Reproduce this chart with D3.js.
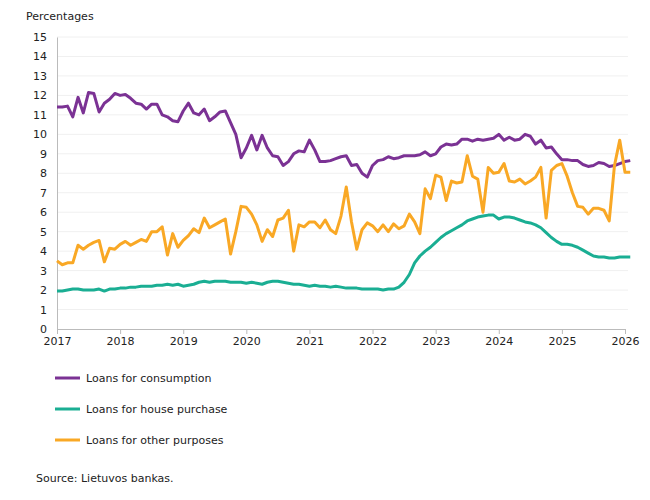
<!DOCTYPE html><html><head><meta charset="utf-8"><script src="https://cdn.jsdelivr.net/npm/d3@7"></script>
<style>body{margin:0;background:#fff}text{font-family:"DejaVu Sans",Verdana,sans-serif}</style></head><body><svg width="650" height="500"></svg>
<script>
const consumption=[11.4,11.4,11.45,10.9,11.9,11.1,12.15,12.1,11.15,11.6,11.8,12.1,
12.0,12.05,11.85,11.6,11.55,11.3,11.55,11.55,11.0,10.9,10.7,10.65,
11.2,11.6,11.1,11.0,11.3,10.7,10.9,11.15,11.2,10.6,10.0,8.8,
9.3,9.95,9.2,9.95,9.3,8.9,8.85,8.4,8.6,9.0,9.15,9.1,
9.7,9.2,8.6,8.6,8.65,8.75,8.85,8.9,8.4,8.45,8.0,7.8,
8.4,8.65,8.7,8.85,8.75,8.8,8.9,8.9,8.9,8.95,9.1,8.9,
9.0,9.35,9.5,9.45,9.5,9.75,9.75,9.65,9.75,9.7,9.75,9.8,
10.0,9.7,9.85,9.7,9.75,10.0,9.9,9.5,9.7,9.3,9.35,9.0,
8.7,8.7,8.65,8.65,8.45,8.35,8.4,8.55,8.5,8.35,8.4,8.5,
8.6,8.65];
const house=[1.95,1.95,2.0,2.05,2.05,2.0,2.0,2.0,2.05,1.95,2.05,2.05,
2.1,2.1,2.15,2.15,2.2,2.2,2.2,2.25,2.25,2.3,2.25,2.3,
2.2,2.25,2.3,2.4,2.45,2.4,2.45,2.45,2.45,2.4,2.4,2.4,
2.35,2.4,2.35,2.3,2.4,2.45,2.45,2.4,2.35,2.3,2.3,2.25,
2.2,2.25,2.2,2.2,2.15,2.2,2.15,2.1,2.1,2.1,2.05,2.05,
2.05,2.05,2.0,2.05,2.05,2.15,2.4,2.8,3.4,3.75,4.0,4.2,
4.45,4.7,4.9,5.05,5.2,5.35,5.55,5.65,5.75,5.8,5.85,5.85,
5.65,5.75,5.75,5.7,5.6,5.5,5.45,5.35,5.2,4.95,4.7,4.5,
4.35,4.35,4.3,4.2,4.05,3.9,3.75,3.7,3.7,3.65,3.65,3.7,
3.7,3.7];
const other=[3.5,3.3,3.4,3.4,4.3,4.1,4.3,4.45,4.55,3.45,4.15,4.1,
4.35,4.5,4.3,4.45,4.6,4.5,5.0,5.0,5.25,3.8,4.9,4.2,
4.55,4.8,5.15,4.95,5.7,5.2,5.35,5.5,5.65,3.85,5.0,6.3,
6.25,5.9,5.35,4.5,5.1,4.75,5.6,5.7,6.1,4.0,5.35,5.25,
5.5,5.5,5.2,5.6,5.1,4.9,5.8,7.3,5.5,4.1,5.1,5.45,
5.3,5.0,5.35,5.0,5.4,5.15,5.3,5.9,5.5,4.9,7.2,6.7,
7.9,7.8,6.6,7.6,7.5,7.55,8.9,7.85,7.7,6.0,8.3,8.0,
8.05,8.5,7.6,7.55,7.7,7.45,7.6,7.8,8.3,5.7,8.15,8.4,
8.5,7.85,7.0,6.3,6.25,5.9,6.2,6.2,6.1,5.55,8.4,9.7,
8.05,8.05];
const years=[2017,2018,2019,2020,2021,2022,2023,2024,2025,2026];
const seriesNames=["Loans for consumption","Loans for house purchase","Loans for other purposes"];
const colors=["#7b3294","#1aae93","#f9a825"];
const svg=d3.select("svg");
const x=d3.scaleLinear().domain([2017,2026]).range([57,625]);
const y=d3.scaleLinear().domain([0,15]).range([329,37]);
const t=i=>2017+i/12;
svg.append("g").selectAll("line").data(d3.range(1,16)).join("line")
 .attr("x1",57).attr("x2",628).attr("y1",d=>y(d)).attr("y2",d=>y(d)).attr("stroke","#f0f0f0");
const ya=svg.append("g").attr("transform","translate(57,0)").call(d3.axisLeft(y).ticks(15).tickSize(0).tickPadding(10));
ya.select(".domain").attr("stroke","#bbb");
ya.selectAll("text").attr("font-size",11).attr("fill","#222");
const xa=svg.append("g").attr("transform","translate(0,329)").call(d3.axisBottom(x).tickValues(years).tickFormat(d3.format("d")).tickSize(5).tickSizeOuter(0));
xa.select(".domain").attr("stroke","#bbb");xa.selectAll("line").attr("stroke","#bbb");
xa.selectAll("text").attr("font-size",11).attr("fill","#222");
svg.append("text").attr("x",26).attr("y",20).attr("font-size",11).attr("fill","#222").text("Percentages");
const line=d3.line().x((d,i)=>x(t(i))).y(d=>y(d));
[consumption,house,other].forEach((s,k)=>svg.append("path").datum(s).attr("d",line).attr("fill","none")
 .attr("stroke",colors[k]).attr("stroke-width",3).attr("stroke-linejoin","round"));
seriesNames.forEach((n,k)=>{const yy=378+k*31;
 svg.append("line").attr("x1",55).attr("x2",80).attr("y1",yy).attr("y2",yy).attr("stroke",colors[k]).attr("stroke-width",3);
 svg.append("text").attr("x",86).attr("y",yy+4).attr("font-size",11).attr("fill","#222").text(n);});
svg.append("text").attr("x",36).attr("y",482).attr("font-size",11).attr("fill","#222").text("Source:  Lietuvos bankas.");
</script></body></html>
